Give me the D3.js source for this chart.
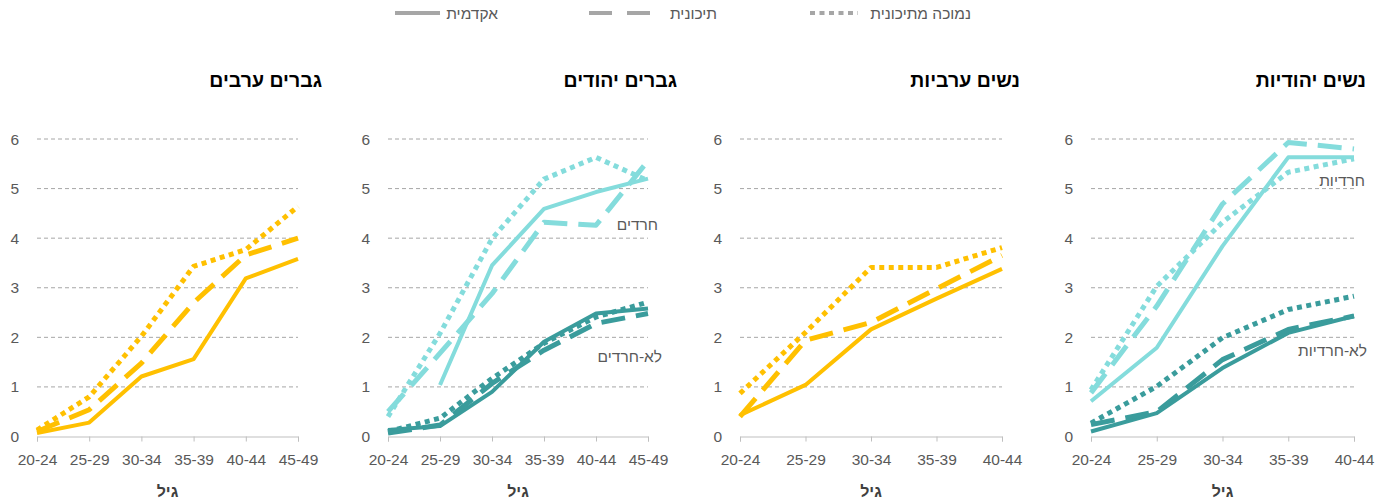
<!DOCTYPE html>
<html>
<head>
<meta charset="utf-8">
<script src="https://cdn.jsdelivr.net/npm/d3@7"></script>
<style>
  body { margin: 0; background: #fff; }
  svg { font-family: Arial, 'Liberation Sans', sans-serif; }
</style>
</head>
<body>
<svg width="1387" height="504"></svg>
<script>
// input data
const ages6 = ['20-24', '25-29', '30-34', '35-39', '40-44', '45-49'];
const ages5 = ['20-24', '25-29', '30-34', '35-39', '40-44'];
const yTicks = [0, 1, 2, 3, 4, 5, 6];

const educationLevels = ['אקדמית', 'תיכונית', 'נמוכה מתיכונית'];

// גברים ערבים
const arabMenAcademic = [0.07, 0.28, 1.21, 1.56, 3.19, 3.58];
const arabMenHighSchool = [0.1, 0.54, 1.48, 2.7, 3.66, 4.0];
const arabMenLow = [0.13, 0.8, 2.02, 3.43, 3.77, 4.64];

// גברים יהודים
const haredimAcademic = [null, 1.04, 3.45, 4.59, 4.93, 5.2];
const haredimHighSchool = [0.5, 1.68, 2.88, 4.32, 4.26, 5.56];
const haredimLow = [0.4, 2.08, 3.99, 5.19, 5.63, 5.16];
const nonHaredimAcademic = [0.13, 0.21, 0.9, 1.91, 2.48, 2.58];
const nonHaredimHighSchool = [0.07, 0.23, 1.07, 1.74, 2.28, 2.48];
const nonHaredimLow = [0.1, 0.37, 1.17, 1.88, 2.41, 2.71];

// נשים ערביות
const arabWomenAcademic = [0.43, 1.04, 2.16, 2.78, 3.38];
const arabWomenHighSchool = [0.4, 1.94, 2.3, 2.98, 3.65];
const arabWomenLow = [0.87, 2.1, 3.41, 3.41, 3.81];

// נשים יהודיות
const haredotAcademic = [0.71, 1.79, 3.84, 5.63, 5.63];
const haredotHighSchool = [0.88, 2.63, 4.69, 5.93, 5.8];
const haredotLow = [0.94, 3.03, 4.32, 5.33, 5.6];
const nonHaredotAcademic = [0.1, 0.47, 1.38, 2.09, 2.43];
const nonHaredotHighSchool = [0.24, 0.5, 1.55, 2.16, 2.43];
const nonHaredotLow = [0.27, 1.01, 1.99, 2.56, 2.83];

// colours and line styles
const yellow = '#FFC000';
const lightTeal = '#84DCDC';
const darkTeal = '#3A9C9C';
const dashes = [null, '24,11', '5,4.5'];

const svg = d3.select('svg');

const yTop = 139;
const yBottom = 436.5;

const panels = [
  {
    title: 'גברים ערבים', x0: 37, x1: 298, titleX: 322, ages: ages6,
    groups: [{ color: yellow, series: [arabMenAcademic, arabMenHighSchool, arabMenLow] }],
  },
  {
    title: 'גברים יהודים', x0: 388, x1: 648, titleX: 677, ages: ages6,
    groups: [
      { color: darkTeal, series: [nonHaredimAcademic, nonHaredimHighSchool, nonHaredimLow], label: 'לא-חרדים', lx: 662, ly: 356 },
      { color: lightTeal, series: [haredimAcademic, haredimHighSchool, haredimLow], label: 'חרדים', lx: 658, ly: 224 },
    ],
  },
  {
    title: 'נשים ערביות', x0: 740, x1: 1002, titleX: 1020, ages: ages5,
    groups: [{ color: yellow, series: [arabWomenAcademic, arabWomenHighSchool, arabWomenLow] }],
  },
  {
    title: 'נשים יהודיות', x0: 1091, x1: 1354, titleX: 1366, ages: ages5,
    groups: [
      { color: darkTeal, series: [nonHaredotAcademic, nonHaredotHighSchool, nonHaredotLow], label: 'לא-חרדיות', lx: 1367, ly: 350 },
      { color: lightTeal, series: [haredotAcademic, haredotHighSchool, haredotLow], label: 'חרדיות', lx: 1365, ly: 180 },
    ],
  },
];

const y = d3.scaleLinear().domain([0, 6]).range([yBottom, yTop]);

panels.forEach(p => {
  const x = d3.scalePoint().domain(p.ages).range([p.x0, p.x1]);
  const g = svg.append('g');

  // title
  g.append('text')
    .attr('x', p.titleX)
    .attr('y', 87)
    .attr('text-anchor', 'end')
    .attr('font-size', 19.5)
    .attr('font-weight', 'bold')
    .attr('fill', '#000')
    .text(p.title);

  // dashed gridlines
  g.selectAll('line.grid')
    .data(yTicks.filter(d => d > 0))
    .enter()
    .append('line')
    .attr('class', 'grid')
    .attr('x1', p.x0)
    .attr('x2', p.x1)
    .attr('y1', d => y(d))
    .attr('y2', d => y(d))
    .attr('stroke', '#A6A6A6')
    .attr('stroke-width', 1)
    .attr('stroke-dasharray', '4,3');

  // y labels
  g.selectAll('text.ylab')
    .data(yTicks)
    .enter()
    .append('text')
    .attr('class', 'ylab')
    .attr('x', p.x0 - 18)
    .attr('y', d => y(d) + 5.5)
    .attr('text-anchor', 'end')
    .attr('font-size', 15.5)
    .attr('fill', '#595959')
    .text(d => d);

  // x axis
  const xAxis = g.append('g')
    .attr('transform', `translate(0 ${yBottom})`)
    .call(d3.axisBottom(x).tickSize(5).tickPadding(12));
  xAxis.select('.domain').attr('stroke', '#BFBFBF');
  xAxis.selectAll('.tick line').attr('stroke', '#BFBFBF');
  xAxis.selectAll('.tick text')
    .attr('font-size', 15.5)
    .attr('font-family', 'Arial, Liberation Sans, sans-serif')
    .attr('fill', '#595959');

  // axis title
  g.append('text')
    .attr('x', (p.x0 + p.x1) / 2)
    .attr('y', 497)
    .attr('text-anchor', 'middle')
    .attr('font-size', 16)
    .attr('font-weight', 'bold')
    .attr('fill', '#404040')
    .text('גיל');

  // lines
  const line = d3.line()
    .defined(d => d.v !== null)
    .x(d => x(d.age))
    .y(d => y(d.v));

  p.groups.forEach(grp => {
    grp.series.forEach((s, i) => {
      const pts = p.ages.map((age, j) => ({ age, v: s[j] }));
      g.append('path')
        .attr('d', line(pts))
        .attr('fill', 'none')
        .attr('stroke', grp.color)
        .attr('stroke-width', i === 0 ? 4 : 5)
        .attr('stroke-linejoin', 'round')
        .attr('stroke-dasharray', dashes[i]);
    });
    if (grp.label) {
      g.append('text')
        .attr('x', grp.lx)
        .attr('y', grp.ly + 5.5)
        .attr('text-anchor', 'end')
        .attr('font-size', 15.5)
        .attr('fill', '#595959')
        .text(grp.label);
    }
  });
});

// legend
const legendItems = [
  { lx1: 395, lx2: 440, tx: 498 },
  { lx1: 589, lx2: 650, tx: 717 },
  { lx1: 810, lx2: 858, tx: 971 },
];
const legendDash = [null, '23,15', '5,4.5'];
const legend = svg.append('g');
educationLevels.forEach((name, i) => {
  const it = legendItems[i];
  legend.append('line')
    .attr('x1', it.lx1)
    .attr('x2', it.lx2)
    .attr('y1', 13)
    .attr('y2', 13)
    .attr('stroke', '#A6A6A6')
    .attr('stroke-width', 4)
    .attr('stroke-dasharray', legendDash[i]);
  legend.append('text')
    .attr('x', it.tx)
    .attr('y', 18.5)
    .attr('text-anchor', 'end')
    .attr('font-size', 15.5)
    .attr('fill', '#595959')
    .text(name);
});
</script>
</body>
</html>
